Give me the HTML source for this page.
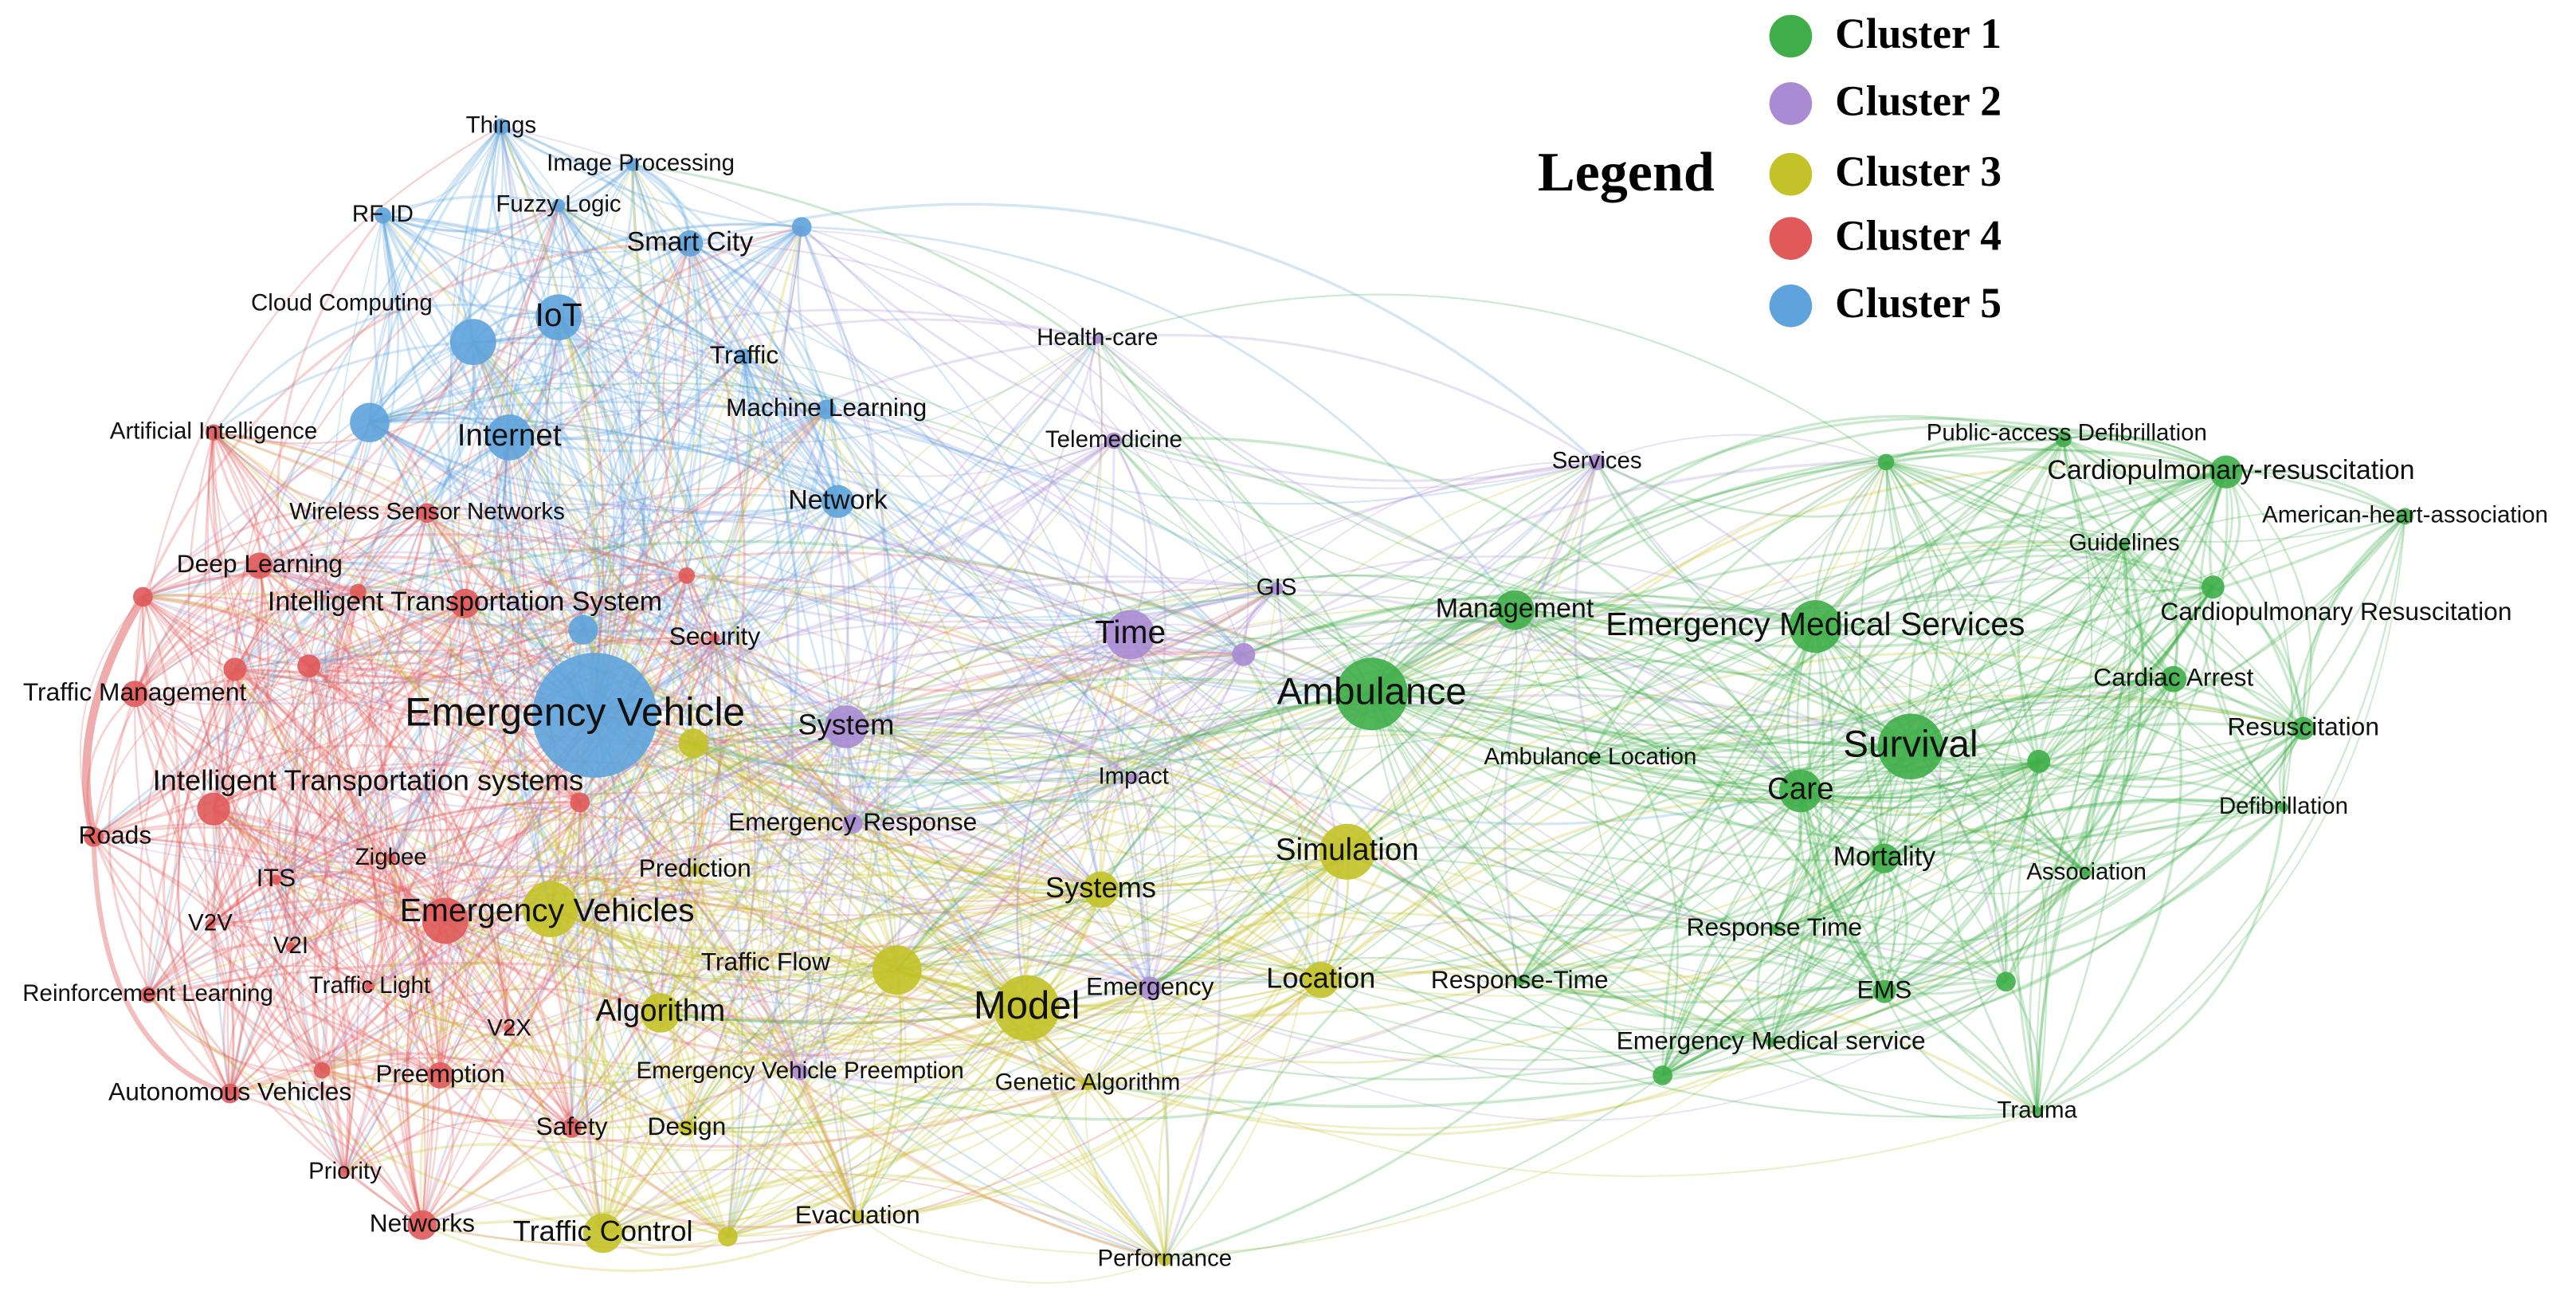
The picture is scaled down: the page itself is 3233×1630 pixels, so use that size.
<!DOCTYPE html>
<html><head><meta charset="utf-8">
<style>
html,body{margin:0;padding:0;background:#fff;}
svg{display:block}
text{font-family:"Liberation Sans",Arial,sans-serif;fill:#111;text-anchor:middle;dominant-baseline:middle}
.lg{font-family:"Liberation Serif",serif;font-weight:bold;text-anchor:start;fill:#000}
</style></head><body>
<svg id="s" width="3233" height="1630" viewBox="0 0 1568 790" preserveAspectRatio="none" xmlns="http://www.w3.org/2000/svg">
<g id="edges" fill="none"></g>
<g id="nodes"></g>
<g id="labels"></g>
<g>
<circle cx="1090" cy="22" r="13" fill="#3fae49"/><text class="lg" x="1117" y="23" font-size="26">Cluster 1</text>
<circle cx="1090" cy="63" r="13" fill="#a98bd3"/><text class="lg" x="1117" y="64" font-size="26">Cluster 2</text>
<circle cx="1090" cy="106" r="13" fill="#c3c228"/><text class="lg" x="1117" y="107" font-size="26">Cluster 3</text>
<circle cx="1090" cy="145" r="13" fill="#e05a5a"/><text class="lg" x="1117" y="146" font-size="26">Cluster 4</text>
<circle cx="1090" cy="186" r="13" fill="#5ea3dc"/><text class="lg" x="1117" y="187" font-size="26">Cluster 5</text>
<text class="lg" x="936" y="108" font-size="34">Legend</text>
</g>
</svg>
<script>
var C={1:"#3fae49",2:"#a98bd3",3:"#c3c228",4:"#e05a5a",5:"#5ea3dc"};
var N=[
[305,77,5,5,"Things",13],[385,100,4,5,"Image Processing",13,390,100],[233,131,5,5,"RF ID",13],[340,125,4,5,"Fuzzy Logic",13],
[420,148,8,5,"Smart City",15],[488,138,6,5,""],[288,208,14,5,"Cloud Computing",13,208,185],[340,193,14,5,"IoT",18],
[453,217,5,5,"Traffic",14],[503,249,6,5,"Machine Learning",14],[225,257,12,5,""],[310,266,14,5,"Internet",17],
[510,305,10,5,"Network",15],[355,383,9,5,""],[362,435,38,5,"Emergency Vehicle",22,350,435],
[130,263,5,4,"Artificial Intelligence",13],[260,312,6,4,"Wireless Sensor Networks",13],[158,344,8,4,"Deep Learning",14],
[87,363,6,4,""],[283,367,9,4,"Intelligent Transportation System",15],[218,360,5,4,""],[418,350,5,4,""],[435,388,3,4,"Security",14],
[82,422,8,4,"Traffic Management",14],[143,407,7,4,""],[188,405,7,4,""],[130,492,10,4,"Intelligent Transportation systems",16,224,476],
[353,488,6,4,""],[57,509,6,4,"Roads",14,70,509],[168,535,3,4,"ITS",14],[238,522,3,4,"Zigbee",13],[128,562,3,4,"V2V",13],
[177,576,3,4,"V2I",13],[271,560,14,4,""],[90,605,5,4,"Reinforcement Learning",13],[225,600,3,4,"Traffic Light",13],
[310,626,3,4,"V2X",13],[196,651,5,4,""],[268,654,8,4,"Preemption",14],[140,665,6,4,"Autonomous Vehicles",14],
[348,686,6,4,"Safety",14],[210,713,3,4,"Priority",13],[257,745,9,4,"Networks",14],
[422,452,9,3,""],[335,553,17,3,"Emergency Vehicles",18,333,555],[423,529,3,3,"Prediction",14],[402,616,12,3,"Algorithm",17],
[546,590,15,3,"Traffic Flow",14,466,586],[625,613,20,3,"Model",22],[418,686,5,3,"Design",14],[367,750,12,3,"Traffic Control",16],
[443,752,6,3,""],[522,740,4,3,"Evacuation",14],[670,541,11,3,"Systems",16],[820,518,17,3,"Simulation",17],
[804,596,11,3,"Location",16],[662,659,4,3,"Genetic Algorithm",13],[709,766,4,3,"Performance",13],
[668,206,3,2,"Health-care",13],[678,268,5,2,"Telemedicine",13],[688,386,15,2,"Time",18],[777,358,4,2,"GIS",13],
[757,398,7,2,""],[515,442,13,2,"System",16],[690,473,3,2,"Impact",13],[519,501,6,2,"Emergency Response",14],
[700,601,7,2,"Emergency",14],[487,652,5,2,"Emergency Vehicle Preemption",13],[972,281,5,2,"Services",13],
[835,422,22,1,"Ambulance",21],[922,371,12,1,"Management",15],[1105,381,16,1,"Emergency Medical Services",18],
[968,461,3,1,"Ambulance Location",13],[1163,454,20,1,"Survival",21],[1096,481,13,1,"Care",17],[1147,522,9,1,"Mortality",15],
[1148,281,5,1,""],[1256,267,5,1,"Public-access Defibrillation",13,1258,264],[1355,287,10,1,"Cardiopulmonary-resuscitation",15,1358,287],
[1464,314,5,1,"American-heart-association",13],[1293,331,3,1,"Guidelines",13],[1347,357,7,1,"Cardiopulmonary Resuscitation",14,1422,373],
[1323,413,8,1,"Cardiac Arrest",14],[1402,443,7,1,"Resuscitation",14],[1241,463,7,1,""],[1390,491,3,1,"Defibrillation",13],
[1270,531,3,1,"Association",13],[1080,565,3,1,"Response Time",14],[925,597,3,1,"Response-Time",14],[1147,603,7,1,"EMS",14],
[1221,597,6,1,""],[1078,634,3,1,"Emergency Medical service",14],[1012,654,6,1,""],[1240,676,3,1,"Trauma",13]
];
var seed=12345;function rnd(){seed=(seed*1103515245+12345)%2147483648;return seed/2147483648;}
var E=document.getElementById("edges"),G=document.getElementById("nodes"),L=document.getElementById("labels");
var out="";
for(var i=0;i<N.length;i++){
  var a=N[i];var k=Math.round(4+a[2]*1.5);
  for(var j=0;j<k;j++){
    var b;var t=0;
    do{b=N[Math.floor(rnd()*N.length)];t++;
      var same=b[3]==a[3];var d=Math.hypot(b[0]-a[0],b[1]-a[1]);
      var ok=(same&&rnd()<0.85)||(rnd()<0.25&&d<650);
    }while((!ok||b===a)&&t<20);
    if(b===a)continue;
    var mx=(a[0]+b[0])/2,my=(a[1]+b[1])/2,dx=b[0]-a[0],dy=b[1]-a[1];
    var f=(rnd()<0.5?-1:1)*(0.12+rnd()*0.22);
    var cx=mx-dy*f,cy=my+dx*f;
    out+='<path d="M'+a[0]+' '+a[1]+'Q'+cx.toFixed(1)+' '+cy.toFixed(1)+' '+b[0]+' '+b[1]+'" stroke="'+C[a[3]]+'" stroke-opacity="0.27" stroke-width="'+(0.8+rnd()*0.9).toFixed(2)+'"/>';
  }
}
out+='<path d="M87 363Q40 440 57 509" stroke="#e05a5a" stroke-opacity="0.5" stroke-width="5"/>';
out+='<path d="M57 509Q60 640 140 665" stroke="#e05a5a" stroke-opacity="0.4" stroke-width="3"/>';
E.innerHTML=out;
var nh="",lh="";
for(var i=0;i<N.length;i++){var a=N[i];
  nh+='<circle cx="'+a[0]+'" cy="'+a[1]+'" r="'+a[2]+'" fill="'+C[a[3]]+'" fill-opacity="0.9"/>';
  if(a[4]){var lx=a[6]||a[0],ly=a[7]||a[1];
    var fs=a[5]*(a[4]=="Model"?1.08:1.1);
    lh+='<text x="'+lx+'" y="'+ly+'" font-size="'+fs.toFixed(1)+'">'+a[4]+'</text>';}
}
G.innerHTML=nh;L.innerHTML=lh;
</script>
</body></html>
